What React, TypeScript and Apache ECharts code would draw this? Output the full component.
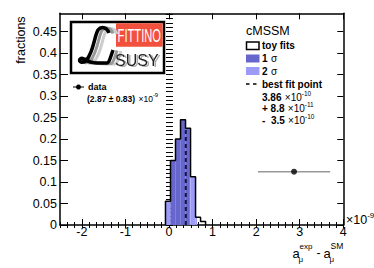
import React, { useEffect, useRef } from "react";
import * as echarts from "echarts";

// ---- data ----
const xTickLabels = [-2, -1, 0, 1, 2, 3, 4];
const yTickLabels = [0, 0.05, 0.1, 0.15, 0.2, 0.25, 0.3, 0.35, 0.4, 0.45];
const binEdges = [-0.08, 0.035, 0.15, 0.265, 0.38, 0.495, 0.61, 0.725, 0.84];
const binFractions = [0.055, 0.15, 0.2, 0.245, 0.225, 0.112, 0.018, 0.008];
const oneSigma = [0.036, 0.474];
const twoSigma = [-0.08, 0.645];
const bestFit = 0.386;
const measuredValue = 2.87;
const measuredError = 0.83;
const measuredMarkerY = 0.124;

const X_MIN = -2.5;
const X_MAX = 4;
const Y_MIN = 0;
const Y_MAX = 0.4925;

const xMinorTicks: number[] = [];
for (let i = 0; i <= 39; i++) xMinorTicks.push(+(X_MIN + i / 6).toFixed(4));
const yMinorTicks: number[] = [];
for (let i = 0; i <= 49; i++) yMinorTicks.push(+(i * 0.01).toFixed(3));

const DARK = "#6666cc";
const LIGHT = "#9c9cf8";
const FONT = "Liberation Sans";

const LOGO_L =
  "M 32 7 C 30 1, 24 0, 21 4 C 18 9, 17 20, 13 28 C 11 33, 8 37, 4 36 C 1 35, 3 31, 7 33 C 10 35, 13 37, 20 37 L 30 37 C 32 37, 34 30, 36 24";
let registered = false;
function registerLogo() {
  if (registered) return;
  echarts.graphic.registerShape("logo", echarts.graphic.extendPath(LOGO_L, {}));
  registered = true;
}

function axisBase(extra: any) {
  return {
    type: "value",
    splitLine: { show: false },
    minorTick: { show: false },
    ...extra,
  };
}

export default function App() {
  const ref = useRef<HTMLDivElement>(null);
  useEffect(() => {
    if (!ref.current) return;
    registerLogo();
    const chart = echarts.init(ref.current, undefined, { renderer: "svg" });

    const binData = binFractions.map((h, i) => [binEdges[i], binEdges[i + 1], h]);
    const outline: number[][] = [[binEdges[0], 0]];
    binFractions.forEach((h, i) => outline.push([binEdges[i], h]));
    outline.push([binEdges[binEdges.length - 1], 0]);
    let bestFitHeight = 0;
    binFractions.forEach((h, i) => {
      if (bestFit >= binEdges[i] && bestFit < binEdges[i + 1]) bestFitHeight = h;
    });

    const axisLine = { show: true, onZero: false, lineStyle: { color: "#000", width: 1.5 } };
    const noLine = { show: false };
    const tickStyle = { color: "#000", width: 1 };

    const xCommon = { min: X_MIN, max: X_MAX };
    const yCommon = { min: Y_MIN, max: Y_MAX };

    const supRich = {
      b: { fontFamily: FONT, fontSize: 10, fontWeight: "bold", fill: "#000" },
      n: { fontFamily: FONT, fontSize: 10, fill: "#000" },
      s: { fontFamily: FONT, fontSize: 6.5, fill: "#000", padding: [0, 0, 8, 0] },
    };
    const supRichSmall = {
      b: { fontFamily: FONT, fontSize: 8.5, fontWeight: "bold", fill: "#000" },
      n: { fontFamily: FONT, fontSize: 8.5, fill: "#000" },
      s: { fontFamily: FONT, fontSize: 6, fill: "#000", padding: [0, 0, 7, 0] },
    };

    const option: any = {
      animation: false,
      backgroundColor: "#fff",
      grid: { left: 60, top: 13.3, width: 283.3, height: 211.7, containLabel: false, outerBoundsMode: "none" },
      xAxis: [
        axisBase({
          ...xCommon,
          position: "bottom",
          axisLine,
          axisTick: { show: true, inside: true, length: 6, customValues: xTickLabels, lineStyle: tickStyle },
          axisLabel: {
            show: true,
            customValues: xTickLabels,
            margin: 0.5,
            fontSize: 12.5,
            fontFamily: FONT,
            color: "#000",
          },
        }),
        axisBase({
          ...xCommon,
          position: "bottom",
          axisLine: noLine,
          axisTick: { show: true, inside: true, length: 3, customValues: xMinorTicks, lineStyle: tickStyle },
          axisLabel: { show: false },
        }),
        axisBase({
          ...xCommon,
          position: "top",
          axisLine,
          axisTick: { show: true, inside: true, length: 6, customValues: xTickLabels, lineStyle: tickStyle },
          axisLabel: { show: false },
        }),
        axisBase({
          ...xCommon,
          position: "top",
          axisLine: noLine,
          axisTick: { show: true, inside: true, length: 3, customValues: xMinorTicks, lineStyle: tickStyle },
          axisLabel: { show: false },
        }),
      ],
      yAxis: [
        axisBase({
          ...yCommon,
          position: "left",
          axisLine,
          axisTick: { show: true, inside: true, length: 8, customValues: yTickLabels, lineStyle: tickStyle },
          axisLabel: {
            show: true,
            customValues: yTickLabels,
            margin: 3,
            fontSize: 12.5,
            fontFamily: FONT,
            color: "#000",
            formatter: (v: number) => String(+v.toFixed(2)),
          },
        }),
        axisBase({
          ...yCommon,
          position: "left",
          axisLine: noLine,
          axisTick: { show: true, inside: true, length: 4, customValues: yMinorTicks, lineStyle: tickStyle },
          axisLabel: { show: false },
        }),
        axisBase({
          ...yCommon,
          position: "right",
          axisLine,
          axisTick: { show: true, inside: true, length: 6, customValues: yTickLabels, lineStyle: tickStyle },
          axisLabel: { show: false },
        }),
        axisBase({
          ...yCommon,
          position: "right",
          axisLine: noLine,
          axisTick: { show: true, inside: true, length: 3, customValues: yMinorTicks, lineStyle: tickStyle },
          axisLabel: { show: false },
        }),
      ],
      series: [
        {
          type: "custom",
          xAxisIndex: 0,
          yAxisIndex: 0,
          encode: { x: [0, 1], y: 2 },
          data: binData,
          z: 2,
          renderItem: (params: any, api: any) => {
            const x0 = api.value(0);
            const x1 = api.value(1);
            const h = api.value(2);
            const children: any[] = [];
            const addRect = (a: number, b: number, color: string) => {
              const lo = Math.max(a, x0);
              const hi = Math.min(b, x1);
              if (hi <= lo) return;
              const p0 = api.coord([lo, h]);
              const p1 = api.coord([hi, 0]);
              children.push({
                type: "rect",
                shape: { x: p0[0], y: p0[1], width: p1[0] - p0[0], height: p1[1] - p0[1] },
                style: { fill: color },
              });
            };
            addRect(twoSigma[0], twoSigma[1], LIGHT);
            addRect(oneSigma[0], oneSigma[1], DARK);
            return { type: "group", children };
          },
        },
        {
          type: "line",
          xAxisIndex: 0,
          yAxisIndex: 0,
          step: "end",
          data: outline,
          showSymbol: false,
          symbol: "none",
          z: 3,
          lineStyle: { color: "#000", width: 1.5 },
        },
        {
          type: "line",
          xAxisIndex: 0,
          yAxisIndex: 0,
          data: [
            [bestFit, 0],
            [bestFit, bestFitHeight],
          ],
          showSymbol: false,
          symbol: "none",
          z: 4,
          lineStyle: { color: "#14143c", width: 2, type: [4, 3] },
        },
        {
          type: "line",
          xAxisIndex: 0,
          yAxisIndex: 0,
          data: [
            [measuredValue - measuredError, measuredMarkerY],
            [measuredValue + measuredError, measuredMarkerY],
          ],
          showSymbol: false,
          symbol: "none",
          z: 3,
          lineStyle: { color: "#999", width: 1.5 },
        },
        {
          type: "scatter",
          xAxisIndex: 0,
          yAxisIndex: 0,
          data: [[measuredValue, measuredMarkerY]],
          symbol: "circle",
          symbolSize: 6,
          z: 4,
          itemStyle: { color: "#000" },
        },
      ],
      graphic: [
        // y-axis title
        {
          type: "text",
          x: 21,
          y: 40,
          rotation: Math.PI / 2,
          style: {
            text: "fractions",
            fontFamily: FONT,
            fontSize: 12.5,
            fill: "#000",
            align: "center",
            verticalAlign: "middle",
          },
        },
        // x-axis exponent
        {
          type: "text",
          x: 346,
          y: 220,
          style: {
            text: "{n|×10}{s|-9}",
            align: "left",
            verticalAlign: "middle",
            rich: {
              n: { fontFamily: FONT, fontSize: 12.5, fill: "#000" },
              s: { fontFamily: FONT, fontSize: 8, fill: "#000", padding: [0, 0, 9, 0] },
            },
          },
        },
        // x-axis title
        { type: "text", x: 292.5, y: 253, style: { text: "a", fontFamily: FONT, fontSize: 13, fill: "#000", verticalAlign: "middle" } },
        { type: "text", x: 299.5, y: 246, style: { text: "exp", fontFamily: FONT, fontSize: 8, fill: "#000", verticalAlign: "middle" } },
        { type: "text", x: 298.5, y: 259.5, style: { text: "μ", fontFamily: FONT, fontSize: 8, fill: "#000", verticalAlign: "middle" } },
        { type: "text", x: 316.5, y: 253, style: { text: "-", fontFamily: FONT, fontSize: 12, fill: "#000", verticalAlign: "middle" } },
        { type: "text", x: 323.5, y: 253, style: { text: "a", fontFamily: FONT, fontSize: 13, fill: "#000", verticalAlign: "middle" } },
        { type: "text", x: 330.5, y: 246, style: { text: "SM", fontFamily: FONT, fontSize: 8.5, fill: "#000", verticalAlign: "middle" } },
        { type: "text", x: 329.5, y: 259.5, style: { text: "μ", fontFamily: FONT, fontSize: 8, fill: "#000", verticalAlign: "middle" } },

        // logo
        { type: "rect", shape: { x: 71, y: 22, width: 93, height: 51 }, style: { fill: "#fff", stroke: "#000", lineWidth: 2.5 }, z: 10 },
        { type: "rect", shape: { x: 116, y: 23.2, width: 46.6, height: 23.5 }, style: { fill: "#f0503c" }, z: 11 },
        {
          type: "text",
          x: 139.3,
          y: 35.5,
          scaleX: 0.62,
          z: 12,
          style: { text: "FITTINO", fontFamily: FONT, fontSize: 18, fill: "#fff", align: "center", verticalAlign: "middle" },
        },
        { type: "logo", x: 85, y: 27, z: 11, style: { fill: "none", stroke: "#ccc", lineWidth: 3 } },
        { type: "logo", x: 81, y: 26.5, z: 11, style: { fill: "none", stroke: "#999", lineWidth: 3 } },
        { type: "logo", x: 77, y: 26, z: 12, style: { fill: "none", stroke: "#000", lineWidth: 3.5 } },
        {
          type: "text",
          x: 115,
          y: 60.5,
          z: 12,
          style: {
            text: "SUSY",
            fontFamily: FONT,
            fontSize: 16,
            fill: "#222",
            verticalAlign: "middle",
            textShadowColor: "#aaa",
            textShadowOffsetX: 2,
            textShadowOffsetY: 1,
            textShadowBlur: 1,
          },
        },

        // data legend (left)
        { type: "line", shape: { x1: 73, y1: 87, x2: 84, y2: 87 }, style: { stroke: "#000", lineWidth: 1 }, z: 10 },
        { type: "circle", shape: { cx: 78.5, cy: 87, r: 2.5 }, style: { fill: "#000" }, z: 10 },
        { type: "text", x: 88, y: 86.5, style: { text: "data", fontFamily: FONT, fontSize: 9, fontWeight: "bold", fill: "#000", verticalAlign: "middle" } },
        {
          type: "text",
          x: 87,
          y: 98.5,
          style: { text: "{b|(2.87 ± 0.83)} {n|×10}{s|-9}", verticalAlign: "middle", rich: supRichSmall },
        },

        // right legend
        { type: "text", x: 246, y: 31, style: { text: "cMSSM", fontFamily: FONT, fontSize: 12.5, fill: "#000", verticalAlign: "middle" } },
        { type: "rect", shape: { x: 246.5, y: 42, width: 12.5, height: 7.5 }, style: { fill: "#fff", stroke: "#000", lineWidth: 1.5 } },
        { type: "text", x: 262, y: 45.5, style: { text: "toy fits", fontFamily: FONT, fontSize: 10, fontWeight: "bold", fill: "#000", verticalAlign: "middle" } },
        { type: "rect", shape: { x: 246, y: 54.5, width: 13.5, height: 8 }, style: { fill: DARK } },
        { type: "text", x: 262, y: 58.5, style: { text: "{b|1} {n|σ}", verticalAlign: "middle", rich: supRich } },
        { type: "rect", shape: { x: 246, y: 67, width: 13.5, height: 8 }, style: { fill: LIGHT } },
        { type: "text", x: 262, y: 71, style: { text: "{b|2} {n|σ}", verticalAlign: "middle", rich: supRich } },
        { type: "line", shape: { x1: 246, y1: 84, x2: 249.5, y2: 84 }, style: { stroke: "#000", lineWidth: 1.5 } },
        { type: "line", shape: { x1: 253, y1: 84, x2: 256.5, y2: 84 }, style: { stroke: "#000", lineWidth: 1.5 } },
        { type: "text", x: 262, y: 84, style: { text: "best fit point", fontFamily: FONT, fontSize: 10, fontWeight: "bold", fill: "#000", verticalAlign: "middle" } },
        { type: "text", x: 262, y: 97, style: { text: "{b|3.86} {n|×10}{s|-10}", verticalAlign: "middle", rich: supRich } },
        { type: "text", x: 262, y: 108.5, style: { text: "{b|+ 8.8} {n|×10}{s|-11}", verticalAlign: "middle", rich: supRich } },
        { type: "text", x: 262, y: 120, style: { text: "{b|-  3.5} {n|×10}{s|-10}", verticalAlign: "middle", rich: supRich } },
      ],
    };
    chart.setOption(option);
    return () => chart.dispose();
  }, []);
  return <div ref={ref} style={{ position: "fixed", left: 0, top: 0, width: 374, height: 268 }} />;
}
